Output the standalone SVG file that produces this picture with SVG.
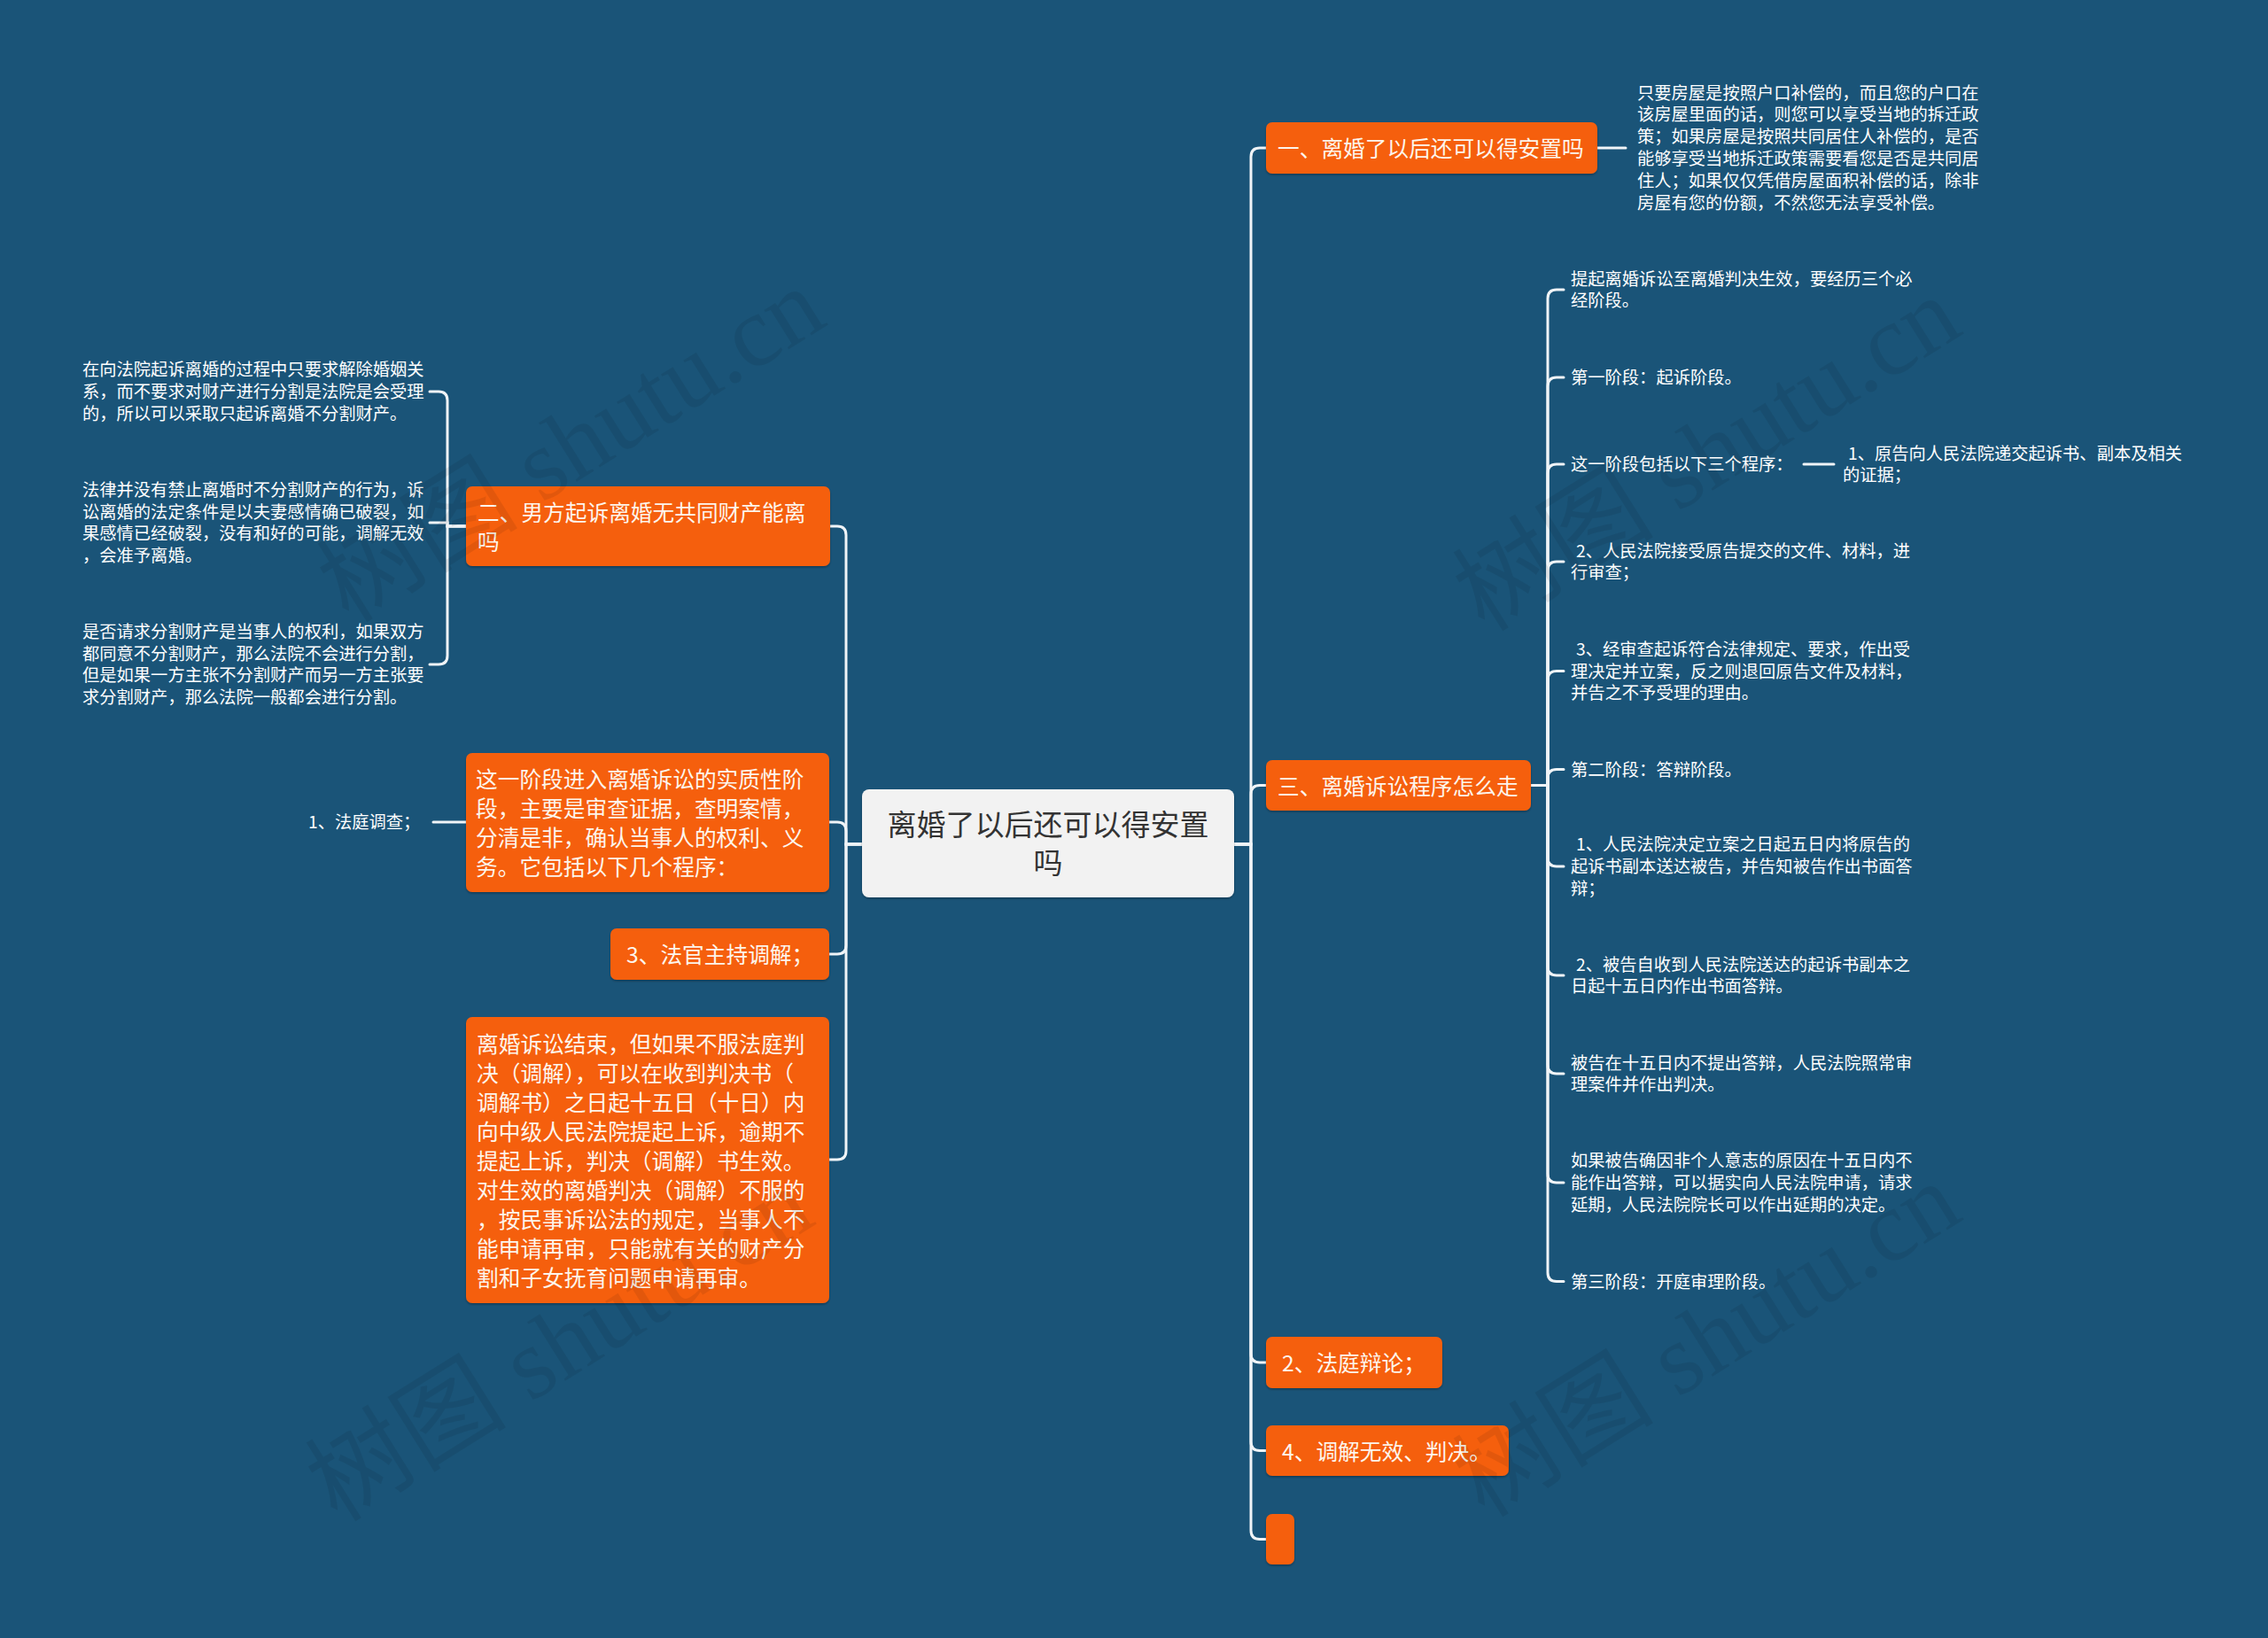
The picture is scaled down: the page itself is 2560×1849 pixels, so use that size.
<svg xmlns="http://www.w3.org/2000/svg" width="2560" height="1849" viewBox="0 0 2560 1849">
<defs>
<filter id="sh" x="-5%" y="-10%" width="110%" height="130%">
<feDropShadow dx="0" dy="1.5" stdDeviation="1.2" flood-color="#000" flood-opacity="0.3"/>
</filter>
</defs>
<style>
text { font-family: "Noto Sans CJK SC", "Noto Sans", sans-serif; dominant-baseline: central; }
.box { fill: #f55f0e; filter: url(#sh); }
.root { fill: #f2f2f2; filter: url(#sh); }
.t { fill: #fdf5ec; font-size: 24.7px; }
.s { fill: #ffffff; font-size: 19.3px; }
.rt { fill: #333333; font-size: 33px; text-anchor: middle; }
.ln { fill: none; stroke: #f0f4f7; stroke-width: 3; stroke-linecap: round; }
.wm { font-family: "Liberation Serif", "Noto Sans CJK SC", serif; font-size: 114px; fill: #000000; opacity: 0.07; dominant-baseline: alphabetic; text-anchor: middle; }
</style>
<rect x="0" y="0" width="2560" height="1849" fill="#1a5478"/>

<g id="connectors">
<path class="ln" d="M1393,953 H1412 V177 Q1412,167 1422,167 H1429"/>
<path class="ln" d="M1393,953 H1412 V896.5 Q1412,886.5 1422,886.5 H1429"/>
<path class="ln" d="M1393,953 H1412 V1528 Q1412,1538 1422,1538 H1429"/>
<path class="ln" d="M1393,953 H1412 V1627.5 Q1412,1637.5 1422,1637.5 H1429"/>
<path class="ln" d="M1393,953 H1412 V1727.5 Q1412,1737.5 1422,1737.5 H1429"/>
<path class="ln" d="M973,953 H955 V604 Q955,594 945,594 H937"/>
<path class="ln" d="M973,953 H955 V938 Q955,928 945,928 H936"/>
<path class="ln" d="M973,953 H955 V1067 Q955,1077 945,1077 H936"/>
<path class="ln" d="M973,953 H955 V1299 Q955,1309 945,1309 H936"/>
<path class="ln" d="M1803,167 H1835"/>
<path class="ln" d="M1728,886.5 H1747 V337 Q1747,327 1757,327 H1765"/>
<path class="ln" d="M1728,886.5 H1747 V436 Q1747,426 1757,426 H1765"/>
<path class="ln" d="M1728,886.5 H1747 V534 Q1747,524 1757,524 H1765"/>
<path class="ln" d="M1728,886.5 H1747 V644 Q1747,634 1757,634 H1765"/>
<path class="ln" d="M1728,886.5 H1747 V767.6 Q1747,757.6 1757,757.6 H1765"/>
<path class="ln" d="M1728,886.5 H1747 V878.6 Q1747,868.6 1757,868.6 H1765"/>
<path class="ln" d="M1728,886.5 H1747 V968 Q1747,978 1757,978 H1765"/>
<path class="ln" d="M1728,886.5 H1747 V1091 Q1747,1101 1757,1101 H1765"/>
<path class="ln" d="M1728,886.5 H1747 V1202 Q1747,1212 1757,1212 H1765"/>
<path class="ln" d="M1728,886.5 H1747 V1325 Q1747,1335 1757,1335 H1765"/>
<path class="ln" d="M1728,886.5 H1747 V1436.6 Q1747,1446.6 1757,1446.6 H1765"/>
<path class="ln" d="M2036,524 H2070"/>
<path class="ln" d="M526,594 H505 V452 Q505,442 495,442 H485"/>
<path class="ln" d="M526,594 H505 V590 H485"/>
<path class="ln" d="M526,594 H505 V740 Q505,750 495,750 H485"/>
<path class="ln" d="M489,928 H526"/>
</g>

<g id="root">
<rect class="root" x="973" y="891" width="420" height="122" rx="8"/>
<text class="rt" x="1183" y="929">离婚了以后还可以得安置</text>
<text class="rt" x="1183" y="972">吗</text>
</g>

<g id="n1">
<rect class="box" x="1429" y="138" width="374" height="58" rx="7"/>
<text class="t" x="1442" y="166">一、离婚了以后还可以得安置吗</text>
</g>
<g id="n1-desc">
<text class="s" x="1848" y="103.5">只要房屋是按照户口补偿的，而且您的户口在</text>
<text class="s" x="1848" y="128.3">该房屋里面的话，则您可以享受当地的拆迁政</text>
<text class="s" x="1848" y="153.1">策；如果房屋是按照共同居住人补偿的，是否</text>
<text class="s" x="1848" y="177.9">能够享受当地拆迁政策需要看您是否是共同居</text>
<text class="s" x="1848" y="202.7">住人；如果仅仅凭借房屋面积补偿的话，除非</text>
<text class="s" x="1848" y="227.5">房屋有您的份额，不然您无法享受补偿。</text>
</g>

<g id="n3">
<rect class="box" x="1429" y="858" width="299" height="57" rx="7"/>
<text class="t" x="1442" y="885.5">三、离婚诉讼程序怎么走</text>
</g>
<g id="n3-c1">
<text class="s" x="1773" y="313.6">提起离婚诉讼至离婚判决生效，要经历三个必</text>
<text class="s" x="1773" y="338.4">经阶段。</text>
</g>
<g id="n3-c2"><text class="s" x="1773" y="425">第一阶段：起诉阶段。</text></g>
<g id="n3-c3"><text class="s" x="1773" y="523">这一阶段包括以下三个程序：</text></g>
<g id="n3-c3-g1">
<text class="s" x="2086" y="510.6">1、原告向人民法院递交起诉书、副本及相关</text>
<text class="s" x="2080" y="535.4">的证据；</text>
</g>
<g id="n3-c4">
<text class="s" x="1779" y="620.6">2、人民法院接受原告提交的文件、材料，进</text>
<text class="s" x="1773" y="645.4">行审查；</text>
</g>
<g id="n3-c5">
<text class="s" x="1779" y="731.8">3、经审查起诉符合法律规定、要求，作出受</text>
<text class="s" x="1773" y="756.6">理决定并立案，反之则退回原告文件及材料，</text>
<text class="s" x="1773" y="781.4">并告之不予受理的理由。</text>
</g>
<g id="n3-c6"><text class="s" x="1773" y="867.6">第二阶段：答辩阶段。</text></g>
<g id="n3-c7">
<text class="s" x="1779" y="952.2">1、人民法院决定立案之日起五日内将原告的</text>
<text class="s" x="1773" y="977">起诉书副本送达被告，并告知被告作出书面答</text>
<text class="s" x="1773" y="1001.8">辩；</text>
</g>
<g id="n3-c8">
<text class="s" x="1779" y="1087.6">2、被告自收到人民法院送达的起诉书副本之</text>
<text class="s" x="1773" y="1112.4">日起十五日内作出书面答辩。</text>
</g>
<g id="n3-c9">
<text class="s" x="1773" y="1198.6">被告在十五日内不提出答辩，人民法院照常审</text>
<text class="s" x="1773" y="1223.4">理案件并作出判决。</text>
</g>
<g id="n3-c10">
<text class="s" x="1773" y="1309.2">如果被告确因非个人意志的原因在十五日内不</text>
<text class="s" x="1773" y="1334">能作出答辩，可以据实向人民法院申请，请求</text>
<text class="s" x="1773" y="1358.8">延期，人民法院院长可以作出延期的决定。</text>
</g>
<g id="n3-c11"><text class="s" x="1773" y="1445.6">第三阶段：开庭审理阶段。</text></g>

<g id="n-debate">
<rect class="box" x="1429" y="1509" width="199" height="58" rx="7"/>
<text class="t" x="1447" y="1537">2、法庭辩论；</text>
</g>
<g id="n-judge">
<rect class="box" x="1429" y="1609" width="274" height="57" rx="7"/>
<text class="t" x="1447" y="1636.5">4、调解无效、判决。</text>
</g>
<g id="n-empty">
<rect class="box" x="1429" y="1709" width="32" height="57" rx="7"/>
</g>

<g id="n2">
<rect class="box" x="526" y="549" width="411" height="90" rx="7"/>
<text class="t" x="539" y="576.5">二、男方起诉离婚无共同财产能离</text>
<text class="t" x="539" y="609.5">吗</text>
</g>
<g id="n2-c1">
<text class="s" x="93" y="416.2">在向法院起诉离婚的过程中只要求解除婚姻关</text>
<text class="s" x="93" y="441">系，而不要求对财产进行分割是法院是会受理</text>
<text class="s" x="93" y="465.8">的，所以可以采取只起诉离婚不分割财产。</text>
</g>
<g id="n2-c2">
<text class="s" x="93" y="551.8">法律并没有禁止离婚时不分割财产的行为，诉</text>
<text class="s" x="93" y="576.6">讼离婚的法定条件是以夫妻感情确已破裂，如</text>
<text class="s" x="93" y="601.4">果感情已经破裂，没有和好的可能，调解无效</text>
<text class="s" x="93" y="626.2">，会准予离婚。</text>
</g>
<g id="n2-c3">
<text class="s" x="93" y="711.8">是否请求分割财产是当事人的权利，如果双方</text>
<text class="s" x="93" y="736.6">都同意不分割财产，那么法院不会进行分割，</text>
<text class="s" x="93" y="761.4">但是如果一方主张不分割财产而另一方主张要</text>
<text class="s" x="93" y="786.2">求分割财产，那么法院一般都会进行分割。</text>
</g>

<g id="n-stage">
<rect class="box" x="526" y="850" width="410" height="157" rx="7"/>
<text class="t" x="537" y="878">这一阶段进入离婚诉讼的实质性阶</text>
<text class="t" x="537" y="911">段，主要是审查证据，查明案情，</text>
<text class="t" x="537" y="944">分清是非，确认当事人的权利、义</text>
<text class="t" x="537" y="977">务。它包括以下几个程序：</text>
</g>
<g id="n-stage-c1"><text class="s" x="348" y="927">1、法庭调查；</text></g>

<g id="n-mediate">
<rect class="box" x="689" y="1048" width="247" height="58" rx="7"/>
<text class="t" x="707" y="1076">3、法官主持调解；</text>
</g>

<g id="n-end">
<rect class="box" x="526" y="1148" width="410" height="323" rx="7"/>
<text class="t" x="538" y="1176.5">离婚诉讼结束，但如果不服法庭判</text>
<text class="t" x="538" y="1209.5">决（调解），可以在收到判决书（</text>
<text class="t" x="538" y="1242.5">调解书）之日起十五日（十日）内</text>
<text class="t" x="538" y="1275.5">向中级人民法院提起上诉，逾期不</text>
<text class="t" x="538" y="1308.5">提起上诉，判决（调解）书生效。</text>
<text class="t" x="538" y="1341.5">对生效的离婚判决（调解）不服的</text>
<text class="t" x="538" y="1374.5">，按民事诉讼法的规定，当事人不</text>
<text class="t" x="538" y="1407.5">能申请再审，只能就有关的财产分</text>
<text class="t" x="538" y="1440.5">割和子女抚育问题申请再审。</text>
</g>

<g id="watermarks">
<text class="wm" transform="translate(665,535) rotate(-32)">树图 shutu.cn</text>
<text class="wm" transform="translate(1947,545) rotate(-32)">树图 shutu.cn</text>
<text class="wm" transform="translate(652,1550) rotate(-32)">树图 shutu.cn</text>
<text class="wm" transform="translate(1947,1545) rotate(-32)">树图 shutu.cn</text>
</g>
</svg>
